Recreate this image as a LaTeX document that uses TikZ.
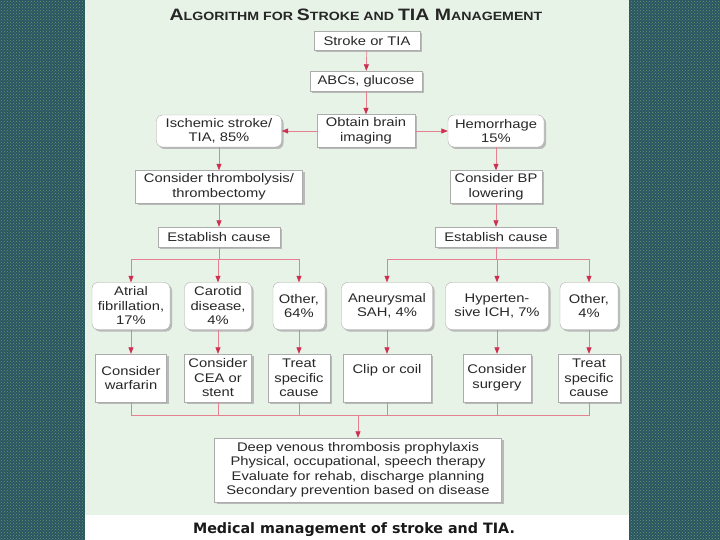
\documentclass[tikz,border=0pt]{standalone}
\usepackage{fontspec}
\setmainfont{Liberation Sans}[FakeStretch=1.18]
\newfontfamily\capfont{DejaVu Sans}
\usetikzlibrary{arrows.meta,shadows,patterns}
\definecolor{side}{RGB}{44,84,100}
\definecolor{sidedot}{RGB}{92,156,104}
\definecolor{panel}{RGB}{232,243,231}
\definecolor{lnk}{RGB}{228,128,146}
\definecolor{tip}{RGB}{206,46,80}
\definecolor{ink}{RGB}{40,40,40}
\newcommand\bigc[1]{{\fontsize{16.5}{17}\selectfont #1}}

\begin{document}
\begin{tikzpicture}[x=1pt, y=-1pt, font=\fontsize{12.5}{14.5}\selectfont, text=ink,
  b/.style={draw=gray!65, fill=white, align=center, inner sep=1pt, drop shadow={shadow xshift=2pt, shadow yshift=-2pt, fill=gray!55, opacity=1}},
  rb/.style={b, rounded corners=6pt},
  wh/.style 2 args={minimum width=#1pt, minimum height=#2pt},
  line/.style={draw=lnk, line width=0.7pt},
  >={Triangle[width=5pt,length=6.5pt,color=tip]}]
% background
\fill[side] (0,0) rectangle (720,540);
\fill[pattern=crosshatch dots, pattern color=sidedot] (0,0) rectangle (85,540) (629,0) rectangle (720,540);
\fill[panel] (85,0) rectangle (629,515);
\fill[white] (85,515) rectangle (629,540);
\useasboundingbox (0,0) rectangle (720,540);
\node[font=\fontsize{12}{14}\selectfont\bfseries, text=black!85] (ttl) at (356,15) {\bigc{A}LGORITHM FOR \bigc{S}TROKE AND \bigc{TIA M}ANAGEMENT};
% top
\node[b, wh={106}{19}] (st) at (367,41) {Stroke or TIA};
\node[b, wh={112}{20}] (abc) at (366,81) {ABCs, glucose};
\node[b, wh={98}{33}] (img) at (366,131) {Obtain brain\\imaging};
\node[rb, wh={125}{32}] (isc) at (219,131) {Ischemic stroke/\\TIA, 85\%}; \node[rb, wh={96}{32}] (hem) at (496,131) {Hemorrhage\\15\%};
\node[b, wh={167}{33}] (thr) at (219,187) {Consider thrombolysis/\\thrombectomy}; \node[b, wh={92}{33}] (bp) at (496,187) {Consider BP\\lowering};
\node[b, wh={122}{20}] (ecl) at (219,237) {Establish cause}; \node[b, wh={121}{20}] (ecr) at (496,237) {Establish cause};
% causes
\node[rb, wh={78}{47}] (af) at (131,306) {Atrial\\fibrillation,\\17\%}; \node[rb, wh={67}{47}] (car) at (218,306) {Carotid\\disease,\\4\%};
\node[rb, wh={52}{47}] (oi) at (299,306) {Other,\\64\%}; \node[rb, wh={91}{47}] (sah) at (387,306) {Aneurysmal\\SAH, 4\%};
\node[rb, wh={103}{47}] (ich) at (497,306) {Hyperten-\\sive ICH, 7\%}; \node[rb, wh={58}{47}] (oh) at (589,306) {Other,\\4\%};
% treatment
\node[b, wh={71}{48}] (war) at (131,378) {Consider\\warfarin}; \node[b, wh={67}{48}] (cea) at (218,378) {Consider\\CEA or\\stent};
\node[b, wh={62}{48}] (tsi) at (299,378) {Treat\\specific\\cause}; \node[b, wh={88}{48}] (clip) at (387,378) {Clip or coil\\\strut};
\node[b, wh={68}{48}] (sur) at (497,378) {Consider\\surgery}; \node[b, wh={62}{48}] (tsh) at (589,378) {Treat\\specific\\cause};
\node[b, wh={287}{64}] (bot) at (358,470) {Deep venous thrombosis prophylaxis\\Physical, occupational, speech therapy\\Evaluate for rehab, discharge planning\\Secondary prevention based on disease};
\node[font=\capfont\bfseries\fontsize{14.3}{16}\selectfont, text=black!90] (cap) at (354,530) {Medical management of stroke and TIA.};
% connectors
\draw[line,->] (st) -- (abc); \draw[line,->] (abc) -- (img); \draw[line,->] (img) -- (isc); \draw[line,->] (img) -- (hem);
\draw[line,->] (isc) -- (thr); \draw[line,->] (thr) -- (ecl); \draw[line,->] (hem) -- (bp); \draw[line,->] (bp) -- (ecr);
\coordinate (bl) at (219,259); \coordinate (br) at (496,259); \coordinate (bb) at (358,415);
\draw[line] (ecl) -- (bl); \draw[line] (ecr) -- (br);
\foreach \n in {af,car,oi} \draw[line,->] (bl) -| (\n);
\foreach \n in {sah,ich,oh} \draw[line,->] (br) -| (\n);
\foreach \a/\c in {af/war, car/cea, oi/tsi, sah/clip, ich/sur, oh/tsh} \draw[line,->] (\a) -- (\c);
\foreach \n in {war,cea,tsi,clip,sur,tsh} \draw[line] (\n) |- (bb);
\draw[line,->] (bb) -- (bot);
\end{tikzpicture}
\end{document}
